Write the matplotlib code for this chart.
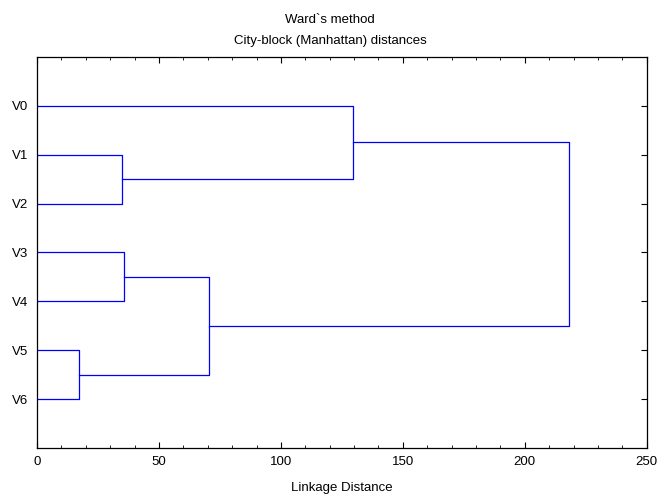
import matplotlib
matplotlib.use("Agg")
import matplotlib.pyplot as plt
from matplotlib.ticker import MultipleLocator

plt.rcParams['font.family'] = ['Liberation Sans', 'DejaVu Sans']
plt.rcParams['font.size'] = 9.5

labels = ['V0', 'V1', 'V2', 'V3', 'V4', 'V5', 'V6']
# merges: (left child, right child, linkage distance); leaves are 0..6, clusters 7..
left = [5, 1, 3, 9, 0, 11]
right = [6, 2, 4, 7, 8, 10]
heights = [17.2, 34.8, 35.7, 70.5, 129.5, 218.0]

fig = plt.figure(figsize=(6.6, 4.95), dpi=100)
ax = fig.add_axes([0.056, 0.095, 0.924, 0.79])

pos = {i: float(i) for i in range(len(labels))}
hgt = {i: 0.0 for i in range(len(labels))}
for k, (a, b, h) in enumerate(zip(left, right, heights)):
    ax.plot([hgt[a], h, h, hgt[b]], [pos[a], pos[a], pos[b], pos[b]],
            color='#0000ff', lw=0.9)
    cid = len(labels) + k
    pos[cid] = (pos[a] + pos[b]) / 2
    hgt[cid] = h

ax.set_xlim(0, 250)
ax.set_ylim(7, -1)
ax.set_yticks(range(len(labels)))
ax.set_yticklabels(labels)
ax.xaxis.set_major_locator(MultipleLocator(50))
ax.xaxis.set_minor_locator(MultipleLocator(10))
ax.tick_params(axis='x', which='both', direction='in', top=True, bottom=True)
ax.tick_params(axis='x', which='major', length=4, pad=6)
ax.tick_params(axis='x', which='minor', length=2)
ax.tick_params(axis='y', direction='in', left=False, right=True, length=4, pad=6)
for s in ax.spines.values():
    s.set_linewidth(0.9)

ax.set_xlabel('Linkage Distance', labelpad=9.5)
fig.text(0.5, 0.959, 'Ward`s method', ha='center', va='center')
fig.text(0.5, 0.917, 'City-block (Manhattan) distances', ha='center', va='center')

fig.savefig('out.png', dpi=100)
